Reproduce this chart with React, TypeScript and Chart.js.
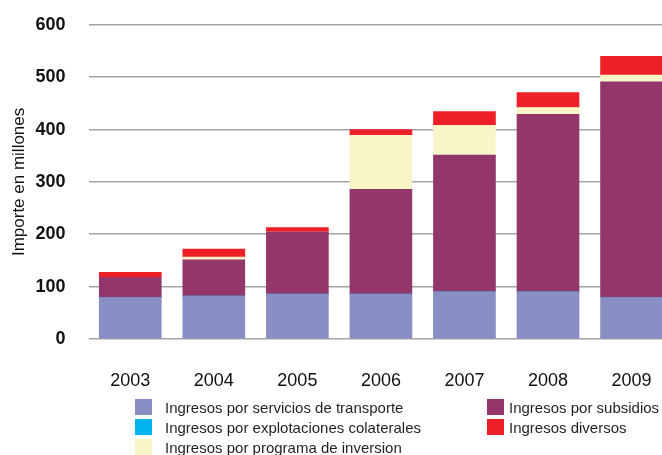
import React, { useEffect, useRef } from "react";
import { Chart, registerables } from "chart.js";

Chart.register(...registerables);

const years = ["2003", "2004", "2005", "2006", "2007", "2008", "2009"];
const transporte = [79, 82, 86, 86, 90, 90, 79];
const explotaciones = [0, 0, 0, 0, 0, 0, 0];
const subsidios = [39, 69, 118, 200, 261, 339, 412];
const programa = [0, 5.5, 0, 103, 57, 13, 13];
const diversos = [9.5, 15, 9, 11, 26.5, 28.5, 36];
const yTicks = [0, 100, 200, 300, 400, 500, 600];

const labelTransporte = "Ingresos por servicios de transporte";
const labelExplotaciones = "Ingresos por explotaciones colaterales";
const labelPrograma = "Ingresos por programa de inversion";
const labelSubsidios = "Ingresos por subsidios";
const labelDiversos = "Ingresos diversos";

const C_BLUE = "#898ec4";
const C_CYAN = "#00b2ee";
const C_PURPLE = "#93366a";
const C_YELLOW = "#f8f5c8";
const C_RED = "#ee2027";

const FONT = "'Liberation Sans', Arial, Helvetica, sans-serif";

export default function App() {
  const ref = useRef<HTMLCanvasElement | null>(null);

  useEffect(() => {
    if (!ref.current) return;
    const chart = new Chart(ref.current, {
      type: "bar",
      data: {
        labels: years,
        datasets: [
          { label: labelTransporte, data: transporte, backgroundColor: C_BLUE },
          { label: labelExplotaciones, data: explotaciones, backgroundColor: C_CYAN },
          { label: labelSubsidios, data: subsidios, backgroundColor: C_PURPLE },
          { label: labelPrograma, data: programa, backgroundColor: C_YELLOW },
          { label: labelDiversos, data: diversos, backgroundColor: C_RED },
        ],
      },
      options: {
        responsive: false,
        animation: false,
        layout: { padding: { top: 15, right: 6, left: 0, bottom: 0 } },
        datasets: { bar: { barThickness: 62, borderWidth: 0 } } as any,
        plugins: {
          legend: { display: false },
          tooltip: { enabled: false },
        },
        scales: {
          x: {
            stacked: true,
            grid: { display: false, drawTicks: false },
            border: { display: false },
            ticks: {
              color: "#111",
              padding: 31,
              font: { family: FONT, size: 18 },
            },
            afterFit: (s: any) => {
              s.height = 116;
            },
          },
          y: {
            stacked: true,
            min: 0,
            max: 600,
            afterBuildTicks: (s: any) => {
              s.ticks = yTicks.map((v) => ({ value: v }));
            },
            grid: { color: "#a3a3a3", lineWidth: 1.6, drawTicks: false },
            border: { display: false },
            ticks: {
              color: "#111",
              padding: 23,
              font: { family: FONT, size: 18, weight: "bold" },
            },
            title: {
              display: true,
              text: "Importe en millones",
              color: "#111",
              font: { family: FONT, size: 17 },
              padding: { top: 9, bottom: 0 },
            },
            afterFit: (s: any) => {
              s.width = 88.5;
            },
          },
        },
      },
    });
    return () => chart.destroy();
  }, []);

  const sw = (color: string, left: number, top: number) => (
    <div
      style={{
        position: "absolute",
        left,
        top,
        width: 17,
        height: 16,
        background: color,
      }}
    />
  );
  const txt = (text: string, left: number, top: number) => (
    <div
      style={{
        position: "absolute",
        left,
        top,
        height: 16,
        lineHeight: "16px",
        fontFamily: FONT,
        fontSize: 15,
        color: "#231f20",
        whiteSpace: "nowrap",
      }}
    >
      {text}
    </div>
  );

  return (
    <div
      style={{
        position: "fixed",
        left: 0,
        top: 0,
        width: 662,
        height: 455,
        overflow: "hidden",
        background: "#fff",
      }}
    >
      <canvas
        ref={ref}
        width={683}
        height={464}
        style={{ position: "absolute", left: 0, top: -9, width: 683, height: 464 }}
      />
      {sw(C_BLUE, 135, 399)}
      {txt(labelTransporte, 165, 400)}
      {sw(C_CYAN, 135, 419)}
      {txt(labelExplotaciones, 165, 420)}
      {sw(C_YELLOW, 135, 439)}
      {txt(labelPrograma, 165, 440)}
      {sw(C_PURPLE, 487, 399)}
      {txt(labelSubsidios, 509, 400)}
      {sw(C_RED, 487, 419)}
      {txt(labelDiversos, 509, 420)}
    </div>
  );
}
